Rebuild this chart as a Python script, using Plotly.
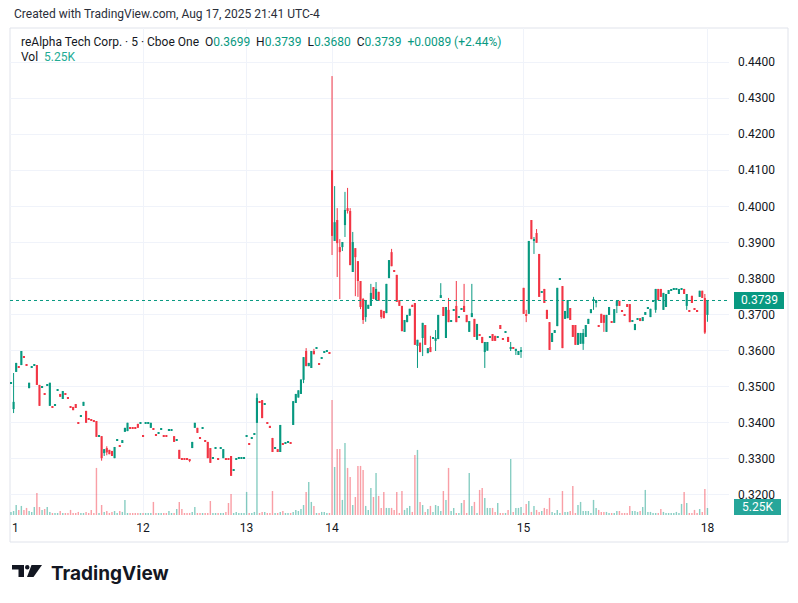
import plotly.graph_objects as go

GREEN = "#089981"
RED = "#F23645"
VOL_UP = "rgba(8,153,129,0.48)"
VOL_DOWN = "rgba(242,54,69,0.48)"
GRID = "#F0F3FA"
TEXT = "#131722"
FONT = "Roboto"

# 5-minute bars (open, high, low, close), one list per trading day
bars_11 = [
    (.3511, .3511, .3511, .3511), (.3438, .3538, .3427, .3458), (.3541, .3566, .3541, .3566),
    (.3555, .3555, .3555, .3555), (.3560, .3599, .3560, .3599), (.3582, .3582, .3582, .3582),
    (.3560, .3560, .3560, .3560), (.3496, .3511, .3496, .3511), (.3555, .3555, .3555, .3555),
    (.3560, .3560, .3560, .3560), (.3560, .3560, .3505, .3505), (.3505, .3505, .3447, .3447),
    (.3499, .3499, .3499, .3499), (.3480, .3480, .3480, .3480), (.3505, .3505, .3505, .3505),
    (.3447, .3511, .3447, .3511), (.3444, .3444, .3444, .3444), (.3450, .3450, .3450, .3450),
    (.3491, .3491, .3491, .3491), (.3480, .3480, .3472, .3472), (.3466, .3488, .3466, .3488),
    (.3480, .3480, .3480, .3480), (.3469, .3469, .3469, .3469), (.3444, .3444, .3444, .3444),
    (.3444, .3444, .3435, .3435), (.3452, .3452, .3441, .3441), (.3400, .3400, .3400, .3400),
    (.3420, .3420, .3420, .3420), (.3447, .3458, .3447, .3458), (.3433, .3433, .3400, .3400),
    (.3413, .3413, .3408, .3408), (.3408, .3408, .3408, .3408), (.3405, .3405, .3405, .3405),
    (.3405, .3405, .3361, .3361), (.3363, .3363, .3363, .3363), (.3363, .3363, .3295, .3302),
    (.3316, .3327, .3308, .3327), (.3330, .3335, .3310, .3318), (.3325, .3325, .3313, .3313),
    (.3322, .3322, .3308, .3308), (.3302, .3333, .3302, .3333), (.3352, .3352, .3352, .3352),
    (.3336, .3336, .3336, .3336), (.3344, .3352, .3344, .3352), (.3375, .3386, .3375, .3386),
    (.3377, .3400, .3377, .3400), (.3386, .3386, .3386, .3386), (.3386, .3386, .3386, .3386),
    (.3386, .3386, .3386, .3386), (.3397, .3397, .3386, .3386), (.3400, .3400, .3400, .3400),
]
bars_12 = [
    (.3363, .3363, .3363, .3363), (.3400, .3400, .3400, .3400), (.3400, .3400, .3400, .3400),
    (.3386, .3400, .3386, .3400), (.3383, .3383, .3383, .3383), (.3366, .3366, .3366, .3366),
    (.3372, .3372, .3372, .3372), (.3383, .3383, .3383, .3383), (.3363, .3363, .3363, .3363),
    (.3363, .3363, .3363, .3363), (.3380, .3380, .3380, .3380), (.3380, .3380, .3380, .3380),
    (.3363, .3363, .3347, .3347), (.3352, .3352, .3352, .3352), (.3325, .3325, .3300, .3300),
    (.3300, .3300, .3300, .3300), (.3300, .3300, .3300, .3300), (.3302, .3302, .3297, .3297),
    (.3297, .3297, .3291, .3297), (.3330, .3347, .3330, .3347), (.3386, .3400, .3386, .3400),
    (.3386, .3386, .3372, .3372), (.3358, .3358, .3358, .3358), (.3386, .3386, .3386, .3386),
    (.3349, .3349, .3349, .3349), (.3347, .3347, .3302, .3302), (.3330, .3330, .3289, .3289),
    (.3302, .3302, .3302, .3302), (.3330, .3330, .3330, .3330), (.3300, .3300, .3300, .3300),
    (.3330, .3330, .3330, .3330), (.3302, .3327, .3302, .3327), (.3299, .3299, .3299, .3299),
    (.3299, .3299, .3299, .3299), (.3308, .3308, .3253, .3253), (.3269, .3269, .3269, .3269),
    (.3299, .3299, .3299, .3299), (.3302, .3302, .3302, .3302), (.3302, .3302, .3302, .3302),
    (.3302, .3302, .3302, .3302),
]
bars_13 = [
    (.3363, .3363, .3363, .3363), (.3341, .3341, .3341, .3341), (.3358, .3358, .3358, .3358),
    (.3369, .3369, .3369, .3369), (.3400, .3480, .3400, .3469), (.3458, .3458, .3458, .3458),
    (.3463, .3463, .3413, .3413), (.3452, .3452, .3452, .3452), (.3400, .3400, .3400, .3400),
    (.3390, .3390, .3390, .3390), (.3358, .3358, .3319, .3319), (.3330, .3330, .3330, .3330),
    (.3327, .3327, .3319, .3319), (.3319, .3394, .3319, .3394), (.3341, .3341, .3341, .3341),
    (.3344, .3344, .3344, .3344), (.3346, .3346, .3346, .3346), (.3344, .3344, .3344, .3344),
    (.3394, .3460, .3394, .3460), (.3455, .3480, .3455, .3480), (.3470, .3490, .3470, .3490),
    (.3480, .3520, .3480, .3520), (.3519, .3582, .3510, .3582), (.3599, .3607, .3557, .3557),
    (.3557, .3566, .3557, .3566), (.3552, .3599, .3552, .3599), (.3599, .3605, .3590, .3590),
    (.3607, .3607, .3607, .3607), (.3563, .3563, .3563, .3563), (.3580, .3580, .3580, .3580),
    (.3596, .3596, .3596, .3596), (.3599, .3599, .3599, .3599), (.3593, .3593, .3593, .3593),
]
bars_14 = [
    (.4100, .4361, .3865, .3918), (.3904, .4056, .3904, .3956), (.3962, .3995, .3804, .3898),
    (.3887, .3909, .3743, .3873), (.3887, .3901, .3876, .3901), (.3948, .4040, .3915, .3990),
    (.3995, .4051, .3980, .3987), (.3987, .3995, .3837, .3837), (.3818, .3929, .3818, .3901),
    (.3884, .3884, .3751, .3859), (.3848, .3848, .3749, .3793), (.3793, .3793, .3715, .3721),
    (.3743, .3746, .3674, .3685), (.3693, .3740, .3680, .3740), (.3716, .3727, .3716, .3727),
    (.3724, .3785, .3724, .3760), (.3776, .3776, .3743, .3743), (.3740, .3790, .3740, .3771),
    (.3763, .3763, .3738, .3738), (.3713, .3713, .3688, .3693), (.3710, .3710, .3690, .3690),
    (.3704, .3785, .3704, .3785), (.3801, .3851, .3801, .3851), (.3873, .3882, .3834, .3834),
    (.3820, .3820, .3820, .3820), (.3810, .3810, .3735, .3735), (.3740, .3740, .3724, .3724),
    (.3724, .3724, .3654, .3654), (.3652, .3685, .3652, .3685), (.3679, .3699, .3679, .3699),
    (.3697, .3716, .3697, .3716), (.3727, .3727, .3721, .3721), (.3732, .3732, .3616, .3616),
    (.3613, .3630, .3552, .3630), (.3622, .3622, .3596, .3596), (.3635, .3677, .3585, .3677),
    (.3671, .3671, .3616, .3616), (.3593, .3607, .3593, .3607), (.3610, .3641, .3596, .3596),
    (.3635, .3635, .3635, .3635), (.3627, .3657, .3599, .3635), (.3632, .3699, .3632, .3699),
    (.3746, .3787, .3746, .3754), (.3721, .3721, .3696, .3696), (.3635, .3721, .3635, .3721),
    (.3713, .3746, .3679, .3679), (.3682, .3682, .3682, .3682), (.3713, .3713, .3713, .3713),
    (.3724, .3793, .3679, .3679), (.3693, .3693, .3693, .3693), (.3715, .3715, .3715, .3715),
    (.3724, .3785, .3707, .3707), (.3699, .3699, .3679, .3679), (.3652, .3682, .3652, .3682),
    (.3693, .3785, .3693, .3704), (.3688, .3688, .3638, .3638), (.3630, .3674, .3630, .3674),
    (.3643, .3643, .3643, .3643), (.3638, .3638, .3621, .3621), (.3596, .3624, .3552, .3624),
    (.3600, .3624, .3600, .3624), (.3638, .3638, .3638, .3638), (.3646, .3646, .3627, .3627),
    (.3641, .3641, .3627, .3627), (.3638, .3638, .3638, .3638), (.3671, .3671, .3660, .3660),
    (.3632, .3632, .3632, .3632), (.3652, .3652, .3652, .3652), (.3638, .3638, .3624, .3624),
    (.3607, .3624, .3599, .3610), (.3610, .3610, .3607, .3607), (.3599, .3605, .3588, .3605),
    (.3588, .3599, .3588, .3599), (.3599, .3610, .3580, .3599),
]
bars_15 = [
    (.3774, .3774, .3702, .3702), (.3699, .3713, .3679, .3699), (.3702, .3904, .3702, .3904),
    (.3962, .3962, .3909, .3909), (.3904, .3915, .3868, .3909), (.3926, .3937, .3899, .3899),
    (.3868, .3868, .3749, .3749), (.3763, .3763, .3763, .3763), (.3771, .3771, .3732, .3732),
    (.3713, .3713, .3688, .3688), (.3679, .3679, .3602, .3602), (.3624, .3649, .3624, .3649),
    (.3649, .3657, .3649, .3657), (.3668, .3774, .3668, .3774), (.3799, .3799, .3799, .3799),
    (.3779, .3779, .3607, .3607), (.3688, .3710, .3688, .3710), (.3690, .3740, .3690, .3740),
    (.3718, .3718, .3685, .3685), (.3671, .3671, .3638, .3638), (.3671, .3671, .3616, .3616),
    (.3616, .3649, .3616, .3649), (.3619, .3649, .3619, .3649), (.3619, .3660, .3602, .3649),
    (.3638, .3671, .3638, .3671), (.3674, .3688, .3674, .3688), (.3704, .3715, .3704, .3715),
    (.3740, .3749, .3713, .3740), (.3732, .3740, .3720, .3740), (.3668, .3668, .3668, .3668),
    (.3702, .3702, .3677, .3677), (.3699, .3699, .3652, .3677), (.3652, .3699, .3652, .3699),
    (.3699, .3721, .3699, .3721), (.3679, .3679, .3679, .3679), (.3677, .3715, .3677, .3715),
    (.3724, .3738, .3704, .3738), (.3738, .3738, .3724, .3724), (.3710, .3710, .3710, .3710),
    (.3700, .3700, .3700, .3700), (.3729, .3729, .3721, .3721), (.3729, .3729, .3679, .3679),
    (.3682, .3682, .3682, .3682), (.3657, .3674, .3657, .3674), (.3688, .3688, .3688, .3688),
    (.3690, .3690, .3682, .3682), (.3682, .3693, .3682, .3693), (.3699, .3707, .3699, .3707),
    (.3718, .3718, .3718, .3718), (.3693, .3716, .3693, .3716), (.3738, .3738, .3738, .3738),
    (.3713, .3771, .3705, .3771), (.3771, .3771, .3740, .3740), (.3771, .3771, .3749, .3749),
    (.3713, .3760, .3713, .3760), (.3721, .3757, .3721, .3757), (.3757, .3768, .3757, .3768),
    (.3768, .3768, .3768, .3768), (.3771, .3771, .3771, .3771), (.3771, .3771, .3771, .3771),
    (.3757, .3771, .3757, .3771), (.3771, .3771, .3771, .3771), (.3771, .3771, .3757, .3757),
    (.3724, .3757, .3713, .3757), (.3710, .3710, .3710, .3710), (.3752, .3752, .3732, .3732),
    (.3715, .3715, .3715, .3715), (.3710, .3710, .3710, .3710), (.3749, .3766, .3749, .3766),
    (.3766, .3766, .3746, .3746), (.3746, .3757, .3646, .3650),
]
bars_18 = [(.3699, .3739, .3680, .3739)]

vol_11 = [2300, 3000, 7500, 3800, 6800, 3800, 5300, 3000, 2300, 6000, 16500, 6000, 3800, 4500,
          6000, 2300, 1500, 1500, 1500, 3000, 1500, 1500, 1500, 3800, 1500, 1500, 2300, 1500,
          1500, 2300, 1500, 3800, 1500, 35300, 1500, 7500, 2300, 3000, 1500, 2300, 3000, 1500,
          3000, 2300, 11300, 1500, 1500, 1500, 1500, 1500, 1500]
vol_12 = [1500, 1500, 1500, 1500, 9800, 1500, 1500, 1500, 1500, 1500, 3000, 1500, 1500, 4500,
          9800, 4500, 1500, 1500, 1500, 2300, 6000, 1500, 1500, 1500, 1500, 1500, 10500, 1500,
          1500, 1500, 1500, 1500, 2300, 9000, 15800, 1500, 2300, 1500, 1500, 1500]
vol_13 = [17300, 1500, 1500, 2300, 91500, 1500, 2300, 2300, 1500, 1500, 18000, 1500, 1500,
          2300, 3000, 1500, 1500, 1500, 2300, 3800, 3000, 4500, 7500, 17300, 24800, 9800, 6800,
          1500, 1500, 2300, 2300, 1500, 1500]
vol_14 = [86300, 36000, 49500, 49500, 11300, 54000, 35300, 28500, 7500, 13500, 36800, 36800,
          33800, 6800, 3800, 20300, 13500, 31500, 14300, 5300, 17300, 5300, 5300, 5300, 3800,
          17300, 1500, 18000, 3800, 5300, 6800, 2300, 45000, 48800, 9800, 7500, 2300, 4500, 6800,
          2300, 7500, 6800, 3000, 18000, 11300, 35300, 3000, 5300, 1500, 1500, 9000, 11300, 1500,
          31500, 6800, 9800, 1500, 18800, 20300, 12800, 5300, 5300, 5300, 2300, 9000, 1500, 1500,
          1500, 3800, 42000, 2300, 5300, 5300, 6000]
vol_15 = [1500, 8300, 10500, 2300, 6800, 3800, 2300, 3000, 5300, 4500, 12800, 2300, 1500, 3800,
          1500, 18000, 2300, 2300, 3000, 21800, 1500, 7500, 9800, 3000, 3000, 3000, 1500, 11300,
          5300, 3800, 2300, 2300, 2300, 1500, 1500, 1500, 3000, 3000, 1500, 1500, 1500, 6800,
          3000, 3000, 2300, 3000, 6000, 18800, 2300, 2300, 1500, 1500, 1500, 4500, 2300, 1500,
          1500, 1500, 1500, 2300, 1500, 8300, 17300, 9000, 1500, 1500, 3800, 1500, 4500, 2300,
          19500]
vol_18 = [5250]

day_labels = ["11", "12", "13", "14", "15", "18"]
price_ticks = [0.32, 0.33, 0.34, 0.35, 0.36, 0.37, 0.38, 0.39, 0.40, 0.41, 0.42, 0.43, 0.44]
last_price = 0.3739
last_volume_label = "5.25K"

day_bars = [bars_11, bars_12, bars_13, bars_14, bars_15, bars_18]
day_vols = [vol_11, vol_12, vol_13, vol_14, vol_15, vol_18]

opens, highs, lows, closes, vols, day_start = [], [], [], [], [], []
for bars, vv in zip(day_bars, day_vols):
    day_start.append(len(opens))
    for o, h, l, c in bars:
        opens.append(o); highs.append(h); lows.append(l); closes.append(c)
    vols.extend(vv)
idx = list(range(len(opens)))

# candle direction; flat candles compare against the previous close
is_up, prev_c, prev_up = [], None, True
for o, c in zip(opens, closes):
    if c != o:
        up = c > o
    elif prev_c is not None and c != prev_c:
        up = c > prev_c
    else:
        up = prev_up
    is_up.append(up)
    prev_c, prev_up = c, up

# plot area in pixels: x 10..729, y 28..515
L, R, T, B = 10, 729, 28, 515
PX_PER_UNIT = 3608  # pixels per 1.00 of price (0.01 = 36 px)
MIN_BODY = 1.2 / PX_PER_UNIT  # flat candles still draw as a 1px dash


def px(x):
    return (x - L) / (R - L)


def py(y):
    return (B - y) / (B - T)


fig = go.Figure()
fig.add_trace(go.Bar(
    x=idx, y=vols, yaxis="y2", width=0.55,
    marker=dict(color=[VOL_UP if u else VOL_DOWN for u in is_up], line=dict(width=0)),
    hoverinfo="skip"))

# wicks, one trace per colour
for want_up, col in ((True, GREEN), (False, RED)):
    wx, wy = [], []
    for i in idx:
        if is_up[i] == want_up and highs[i] > lows[i]:
            wx += [i, i, None]
            wy += [lows[i], highs[i], None]
    fig.add_trace(go.Scatter(x=wx, y=wy, mode="lines", line=dict(color=col, width=1),
                             hoverinfo="skip"))

# bodies
body_base, body_h = [], []
for o, c in zip(opens, closes):
    lo, hi = min(o, c), max(o, c)
    if hi - lo < MIN_BODY:
        mid = (hi + lo) / 2
        lo, hi = mid - MIN_BODY / 2, mid + MIN_BODY / 2
    body_base.append(lo)
    body_h.append(hi - lo)
fig.add_trace(go.Bar(
    x=idx, y=body_h, base=body_base, width=0.82,
    marker=dict(color=[GREEN if u else RED for u in is_up], line=dict(width=0)),
    hoverinfo="skip"))

shapes = [
    # outer frame
    dict(type="rect", xref="paper", yref="paper", x0=px(10), x1=px(788), y0=py(542), y1=py(28),
         line=dict(color="#E0E3EB", width=1), layer="below"),
    # last price dotted line
    dict(type="line", xref="paper", yref="y", x0=0, x1=1, y0=last_price, y1=last_price,
         line=dict(color=GREEN, width=1, dash="dot")),
    # price / volume tags on the scale
    dict(type="rect", xref="paper", yref="paper", x0=px(734), x1=px(784), y0=py(309), y1=py(292),
         fillcolor=GREEN, line=dict(width=0)),
    dict(type="rect", xref="paper", yref="paper", x0=px(734), x1=px(781), y0=py(515), y1=py(499),
         fillcolor="#26A69A", line=dict(width=0)),
    # TradingView logo mark
    dict(type="rect", xref="paper", yref="paper", x0=px(12), x1=px(24), y0=py(569.5), y1=py(565),
         fillcolor="#131722", line=dict(width=0)),
    dict(type="rect", xref="paper", yref="paper", x0=px(18.5), x1=px(24), y0=py(577), y1=py(565),
         fillcolor="#131722", line=dict(width=0)),
    dict(type="circle", xref="paper", yref="paper", x0=px(25), x1=px(29.5), y0=py(569.5), y1=py(565),
         fillcolor="#131722", line=dict(width=0)),
    dict(type="path", xref="paper", yref="paper",
         path="M {} {} L {} {} L {} {} L {} {} Z".format(px(31.5), py(565), px(42), py(565),
                                                      px(33.5), py(577), px(27), py(577)),
         fillcolor="#131722", line=dict(width=0)),
]

g = "<span style='color:%s'>%%s</span>" % GREEN
header = ("reAlpha Tech Corp. · 5 · Cboe One  "
          "O" + g % "0.3699" + "  H" + g % "0.3739" + "  L" + g % "0.3680" +
          "  C" + g % "0.3739" + "  " + g % "+0.0089 (+2.44%)")

annotations = [
    dict(text="Created with TradingView.com, Aug 17, 2025 21:41 UTC-4", x=px(12), y=py(14),
         xref="paper", yref="paper", xanchor="left", yanchor="middle", showarrow=False,
         font=dict(size=12, color="#2A2E39")),
    dict(text=header, x=px(19), y=py(42), xref="paper", yref="paper", xanchor="left",
         yanchor="middle", showarrow=False, font=dict(size=12, color=TEXT)),
    dict(text="Vol  <span style='color:#22AB94'>%s</span>" % last_volume_label, x=px(19), y=py(57),
         xref="paper", yref="paper", xanchor="left", yanchor="middle", showarrow=False,
         font=dict(size=12, color=TEXT)),
    dict(text="%.4f" % last_price, x=px(759), y=py(300.5), xref="paper", yref="paper",
         xanchor="center", yanchor="middle", showarrow=False, font=dict(size=12, color="white")),
    dict(text=last_volume_label, x=px(757.5), y=py(507), xref="paper", yref="paper",
         xanchor="center", yanchor="middle", showarrow=False, font=dict(size=12, color="white")),
    # the first day's label is cut by the left edge, only its last digit shows
    dict(text=day_labels[0][-1], x=px(15), y=py(527.5), xref="paper", yref="paper",
         xanchor="center", yanchor="middle", showarrow=False, font=dict(size=12, color=TEXT)),
    dict(text="<b>TradingView</b>", x=px(49), y=py(573), xref="paper", yref="paper",
         xanchor="left", yanchor="middle", showarrow=False,
         font=dict(family="Inter", size=19, color="#131722")),
]

bar_px = 2.589  # horizontal distance between bars
fig.update_layout(
    width=798, height=603,
    margin=dict(l=L, r=798 - R, t=T, b=603 - B),
    paper_bgcolor="white", plot_bgcolor="white",
    font=dict(family=FONT, color=TEXT),
    showlegend=False, hovermode=False, barmode="overlay",
    xaxis=dict(range=[-1 / bar_px, (R - L - 1) / bar_px], tickvals=day_start,
               ticktext=[""] + day_labels[1:], showgrid=True, gridcolor=GRID, gridwidth=1,
               zeroline=False, showline=False, ticks="",
               tickfont=dict(size=12, color=TEXT), ticklabelstandoff=4, fixedrange=True),
    yaxis=dict(side="right",
               range=[0.44 - (B - 62) / PX_PER_UNIT, 0.44 + (62 - T) / PX_PER_UNIT],
               tickvals=price_ticks, ticktext=["%.4f" % v for v in price_ticks],
               showgrid=True, gridcolor=GRID, zeroline=False, showline=False, ticks="",
               tickfont=dict(size=12, color=TEXT), ticklabelstandoff=8, fixedrange=True),
    yaxis2=dict(overlaying="y", range=[0, (B - T) * 750], visible=False, fixedrange=True),
    shapes=shapes, annotations=annotations,
)

fig.write_html("out.html", config=dict(displayModeBar=False),
               post_script="document.body.style.margin='0';")
